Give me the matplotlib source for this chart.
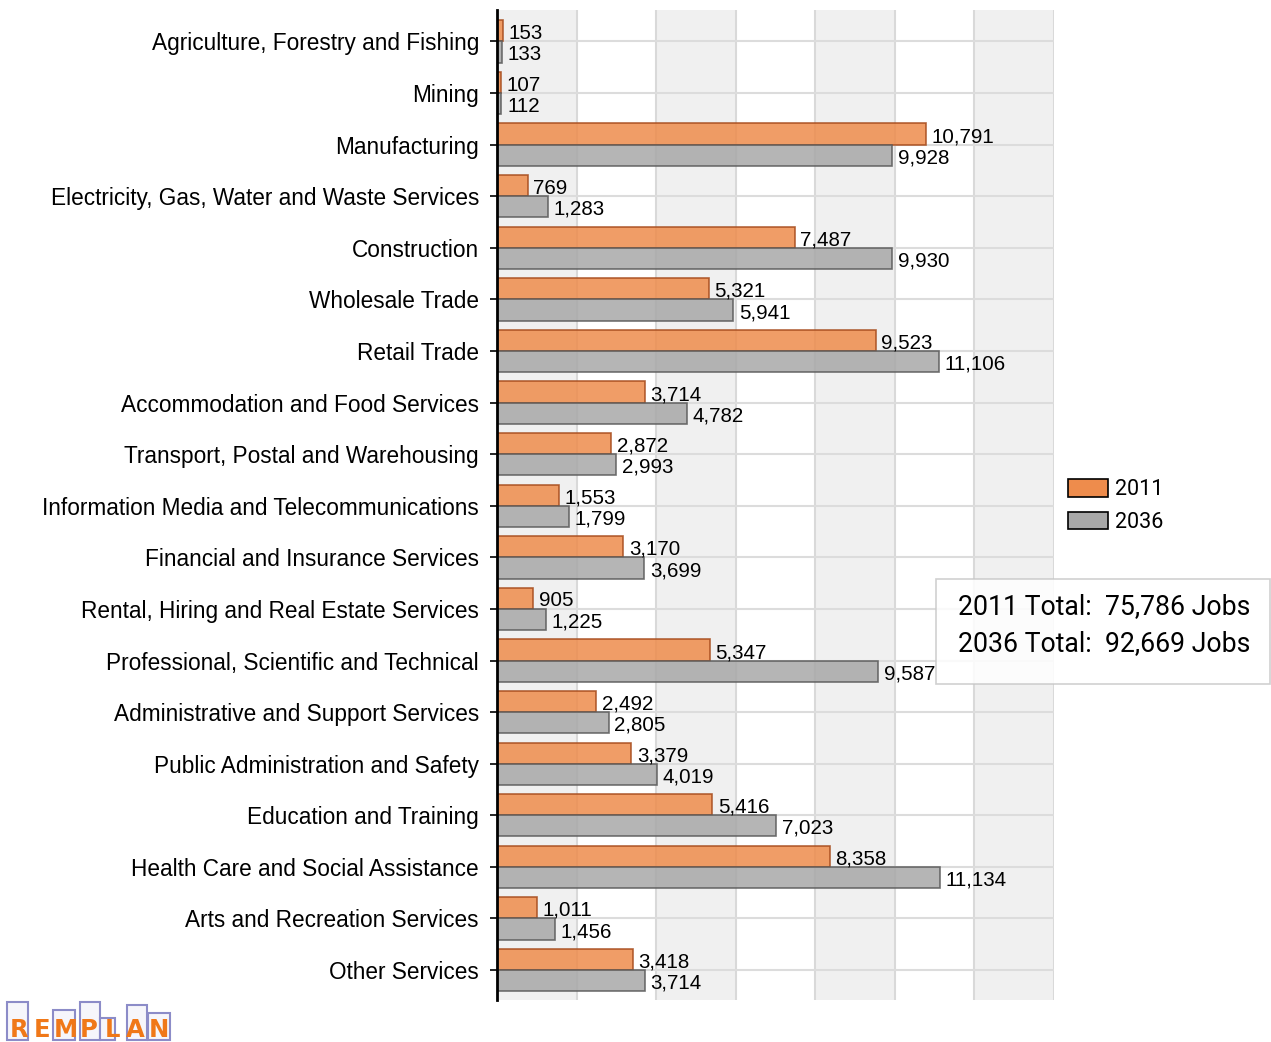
import numpy as np
import matplotlib
matplotlib.use('Agg')
import matplotlib.pyplot as plt
from matplotlib.patches import Rectangle

industries = ['Agriculture, Forestry and Fishing', 'Mining', 'Manufacturing',
              'Electricity, Gas, Water and Waste Services', 'Construction',
              'Wholesale Trade', 'Retail Trade', 'Accommodation and Food Services',
              'Transport, Postal and Warehousing', 'Information Media and Telecommunications',
              'Financial and Insurance Services', 'Rental, Hiring and Real Estate Services',
              'Professional, Scientific and Technical', 'Administrative and Support Services',
              'Public Administration and Safety', 'Education and Training',
              'Health Care and Social Assistance', 'Arts and Recreation Services',
              'Other Services']
jobs_2011 = [153, 107, 10791, 769, 7487, 5321, 9523, 3714, 2872, 1553,
             3170, 905, 5347, 2492, 3379, 5416, 8358, 1011, 3418]
jobs_2036 = [133, 112, 9928, 1283, 9930, 5941, 11106, 4782, 2993, 1799,
             3699, 1225, 9587, 2805, 4019, 7023, 11134, 1456, 3714]
series_names = ['2011', '2036']
band_edges = [0, 2000, 4000, 6000, 8000, 10000, 12000, 14000]

W, H = 1271, 1042
fig = plt.figure(figsize=(W / 100, H / 100), dpi=100)
ax = fig.add_axes([497 / W, 1 - 1000 / H, (1054 - 497) / W, 990 / H])

y = np.arange(len(industries))
bh = 0.41

# alternating background bands
for i in range(len(band_edges) - 1):
    if i % 2 == 0:
        ax.axvspan(band_edges[i], band_edges[i + 1], color='#f0f0f0', zorder=0, lw=0)
for xv in band_edges[1:]:
    ax.axvline(xv, color='#d9d9d9', lw=1.5, zorder=1)
for yv in y:
    ax.axhline(yv, color='#dcdcdc', lw=1.5, zorder=1)

ax.barh(y - bh / 2, jobs_2011, height=bh, color='#ee8c4c', edgecolor='#a64b1c',
        lw=1.2, alpha=0.85, zorder=2, label=series_names[0])
ax.barh(y + bh / 2, jobs_2036, height=bh, color='#a8a8a8', edgecolor='#5a5a5a',
        lw=1.2, alpha=0.85, zorder=2, label=series_names[1])

for yi, v1, v2 in zip(y, jobs_2011, jobs_2036):
    ax.text(v1 + 140, yi - bh / 2 + 0.05, f'{v1:,}', va='center', ha='left',
            fontsize=14.8, family='Liberation Sans', zorder=3)
    ax.text(v2 + 140, yi + bh / 2 + 0.05, f'{v2:,}', va='center', ha='left',
            fontsize=14.8, family='Liberation Sans', zorder=3)

ax.set_xlim(0, 14000)
ax.set_ylim(len(industries) - 0.42, -0.61)
ax.set_yticks(y)
ax.set_yticklabels(industries, fontsize=16.3, family='Liberation Sans')
ax.set_xticks([])
ax.tick_params(axis='y', length=5, width=1.2, pad=8)
for s in ['top', 'right', 'bottom']:
    ax.spines[s].set_visible(False)
ax.spines['left'].set_linewidth(2)
ax.spines['left'].set_zorder(4)

# legend
leg = fig.legend(loc='upper left', bbox_to_anchor=(1049 / W, 1 - 460 / H),
                 frameon=False, prop={'family': 'Roboto', 'size': 15.5},
                 handlelength=1.85, handleheight=0.85, handletextpad=0.3, labelspacing=0.55)
for h in leg.legend_handles:
    h.set_alpha(1)
    h.set_edgecolor('black')

# totals box
box = Rectangle((936 / W, 1 - 684 / H), (1270 - 936) / W, 105 / H, transform=fig.transFigure,
                facecolor='white', edgecolor='#c8c8c8', lw=1.2, alpha=0.85, zorder=5)
fig.patches.append(box)
fig.text(958 / W, 1 - 607 / H, f'2011 Total:  {sum(jobs_2011):,} Jobs', fontsize=19.2,
         family='Roboto', va='center', ha='left', zorder=6)
fig.text(958 / W, 1 - 644 / H, f'2036 Total:  {sum(jobs_2036):,} Jobs', fontsize=19.2,
         family='Roboto', va='center', ha='left', zorder=6)

# logo
for x0, x1, top in [(7, 28, 1002), (53, 75, 1010), (80, 100, 1002), (100, 115, 1018),
                    (127, 147, 1005), (148, 170, 1013)]:
    fig.patches.append(Rectangle((x0 / W, 1 - 1040 / H), (x1 - x0) / W, (1040 - top) / H,
                                 transform=fig.transFigure, facecolor='#f6f6fb',
                                 edgecolor='#8c8cc8', lw=1.5))
for k, ch in enumerate('REMPLAN'):
    fig.text((19 + k * 23.3) / W, 1 - 1030 / H, ch, fontsize=17.5, fontweight='heavy',
             color='#f07818', family='DejaVu Sans', va='center', ha='center')

fig.savefig('out.png', dpi=100)
